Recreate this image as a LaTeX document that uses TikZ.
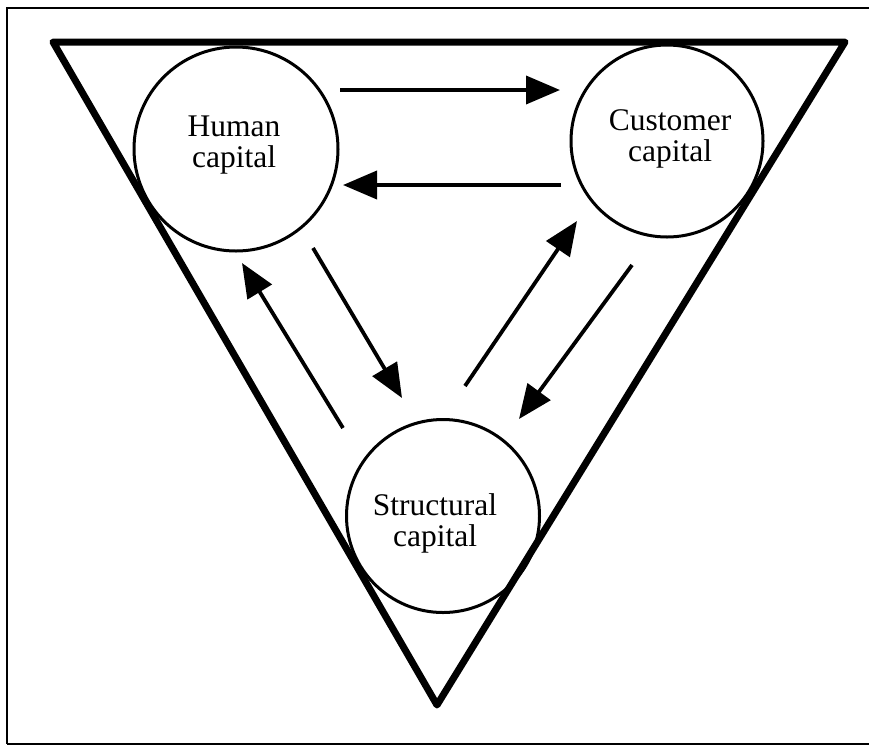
\documentclass[tikz,border=0pt]{standalone}
\usepackage{fontspec}
\setmainfont{Liberation Serif}
\usetikzlibrary{arrows.meta}
\begin{document}
\begin{tikzpicture}[x=1pt,y=-1pt,
  capnode/.style={circle, draw, line width=3pt, inner sep=0pt},
  lbl/.style={align=center, font=\fontsize{31.5}{31}\selectfont},
  flowarrow/.style={line width=3.8pt, -{Triangle[length=34pt,width=28pt]}},
  frameline/.style={line width=2.5pt},
  triline/.style={line width=7pt, line join=round}]
\useasboundingbox (0,0) rectangle (869,745);
% frame
\coordinate (f1) at (869,8);
\coordinate (f2) at (7,8);
\coordinate (f3) at (7,744);
\coordinate (f4) at (869,744);
\draw[frameline] (f1) -- (f2) -- (f3);
\draw[line width=1.8pt] (f3) -- (f4);
% triangle
\coordinate (tl) at (53,42);
\coordinate (tr) at (845,42);
\coordinate (tb) at (437,705);
\draw[triline] (tl) -- (tr) -- (tb) -- cycle;
% circles
\node[capnode, minimum size=204pt] (human) at (236,149) {};
\node[capnode, minimum size=192pt] (customer) at (667,141) {};
\node[capnode, minimum size=193pt] (structural) at (443,516) {};
% labels
\node[lbl] (humanT) at (234,145) {Human\\capital};
\node[lbl] (customerT) at (670,139) {Customer\\capital};
\node[lbl] (structuralT) at (435,523) {Structural\\capital};
% arrow end points
\coordinate (a1s) at (340,90);  \coordinate (a1e) at (560,90);
\coordinate (a2s) at (561,185); \coordinate (a2e) at (343,185);
\coordinate (a3s) at (313,248); \coordinate (a3e) at (402,398);
\coordinate (a4s) at (343,428); \coordinate (a4e) at (242,263);
\coordinate (a5s) at (465,386); \coordinate (a5e) at (577,221);
\coordinate (a6s) at (632,265); \coordinate (a6e) at (519,419);
\draw[flowarrow] (a1s) -- (a1e);
\draw[flowarrow] (a2s) -- (a2e);
\draw[flowarrow] (a3s) -- (a3e);
\draw[flowarrow] (a4s) -- (a4e);
\draw[flowarrow] (a5s) -- (a5e);
\draw[flowarrow] (a6s) -- (a6e);
\end{tikzpicture}
\end{document}
